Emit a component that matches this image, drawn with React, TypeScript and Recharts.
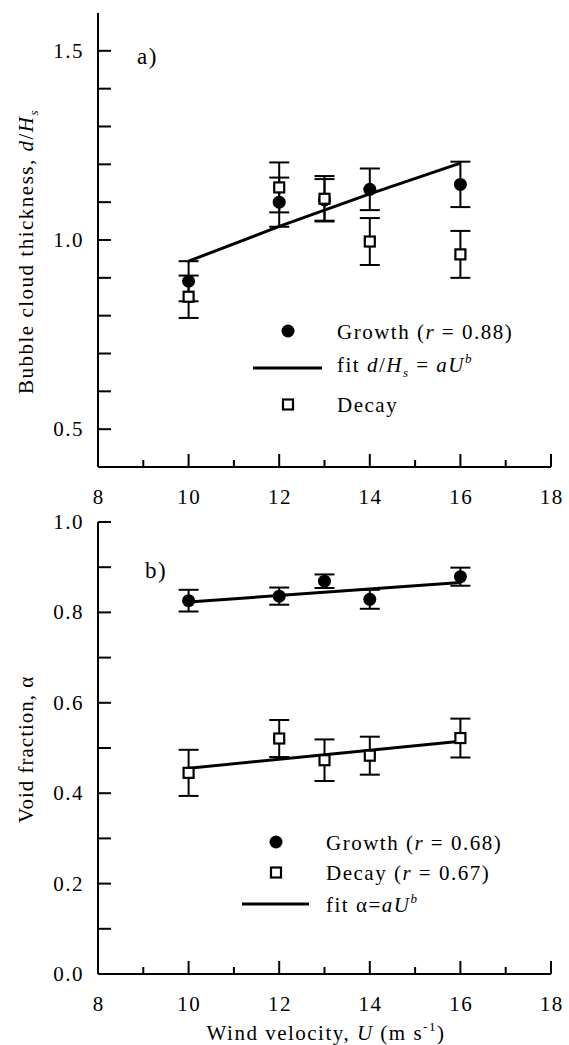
import React from 'react';
import { ComposedChart, Scatter, Line, XAxis, YAxis, ErrorBar } from 'recharts';

// wind velocity U (m/s) of the measurements
const WIND = [10, 12, 13, 14, 16];

// a) bubble cloud thickness d/Hs
const growthThick = [0.891, 1.1, 1.106, 1.134, 1.147];
const growthThickErr = [0.053, 0.065, 0.055, 0.055, 0.06];
const decayThick = [0.85, 1.139, 1.109, 0.996, 0.962];
const decayThickErr = [0.056, 0.066, 0.06, 0.062, 0.062];
const fitThickU = [10, 12, 14, 16];
const fitThick = [0.944, 1.036, 1.122, 1.203];

// b) void fraction alpha
const growthVoid = [0.826, 0.836, 0.869, 0.829, 0.879];
const growthVoidErr = [0.024, 0.019, 0.015, 0.021, 0.02];
const decayVoid = [0.445, 0.521, 0.473, 0.483, 0.522];
const decayVoidErr = [0.051, 0.041, 0.046, 0.042, 0.043];
const fitVoidU = [10, 16];
const fitGrowthVoid = [0.823, 0.866];
const fitDecayVoid = [0.455, 0.515];

const X_TICKS = [8, 9, 10, 11, 12, 13, 14, 15, 16, 17, 18];
const THICK_TICKS = [0.5, 0.6, 0.7, 0.8, 0.9, 1.0, 1.1, 1.2, 1.3, 1.4, 1.5];
const THICK_LABELS = [0.5, 1.0, 1.5];
const VOID_TICKS = [0, 0.1, 0.2, 0.3, 0.4, 0.5, 0.6, 0.7, 0.8, 0.9, 1.0];
const VOID_LABELS = [0, 0.2, 0.4, 0.6, 0.8, 1.0];

const FONT = '"Liberation Serif", "Times New Roman", serif';
const FS = 21;
const LS = 1.5;

const pts = (u: number[], v: number[], e?: number[]) =>
  u.map((x, i) => ({ u: x, v: v[i], e: e ? e[i] : 0 }));

const has = (list: number[], v: number) => list.some((l) => Math.abs(l - v) < 1e-6);

// inward tick marks, labels only on bottom / left
const xTick = (side: 'bottom' | 'top') => (p: any) => {
  const v = p.payload.value;
  const len = v % 2 === 0 ? 13 : 7;
  const dir = side === 'bottom' ? -1 : 1;
  return (
    <g>
      <line x1={p.x} y1={p.y} x2={p.x} y2={p.y + dir * len} stroke="#000" strokeWidth={2} />
      {side === 'bottom' && v % 2 === 0 && (
        <text x={p.x + LS / 2} y={p.y + 37} textAnchor="middle" fontFamily={FONT} fontSize={FS} letterSpacing={LS}>
          {v}
        </text>
      )}
    </g>
  );
};

const yTick = (side: 'left' | 'right', labels: number[]) => (p: any) => {
  const v = p.payload.value;
  const dir = side === 'left' ? 1 : -1;
  return (
    <g>
      <line x1={p.x} y1={p.y} x2={p.x + dir * 13} y2={p.y} stroke="#000" strokeWidth={2} />
      {side === 'left' && has(labels, v) && (
        <text x={p.x - 14} y={p.y + 7} textAnchor="end" fontFamily={FONT} fontSize={FS} letterSpacing={LS}>
          {v.toFixed(1)}
        </text>
      )}
    </g>
  );
};

const Dot = (p: any) => <circle cx={p.cx} cy={p.cy} r={6.5} fill="#000" />;
const Box = (p: any) => (
  <rect x={p.cx - 5} y={p.cy - 5} width={10} height={10} fill="#fff" stroke="#000" strokeWidth={2.2} />
);

const axisLine = { stroke: '#000', strokeWidth: 2 };

const axes = (domain: [number, number], yTicks: number[], yLabels: number[]) => [
  <XAxis key="xb" xAxisId="b" type="number" dataKey="u" domain={[8, 18]} ticks={X_TICKS} interval={0}
    height={40} tickSize={0} tickMargin={0} tickLine={false} axisLine={axisLine} tick={xTick('bottom')} allowDataOverflow />,
  <XAxis key="xt" xAxisId="t" orientation="top" type="number" dataKey="u" domain={[8, 18]} ticks={X_TICKS} interval={0}
    height={0} tickSize={0} tickMargin={0} tickLine={false} axisLine={axisLine} tick={xTick('top')} allowDataOverflow />,
  <YAxis key="yl" yAxisId="l" type="number" dataKey="v" domain={domain} ticks={yTicks} interval={0}
    width={98} tickSize={0} tickMargin={0} tickLine={false} axisLine={axisLine} tick={yTick('left', yLabels)} allowDataOverflow />,
  <YAxis key="yr" yAxisId="r" orientation="right" type="number" dataKey="v" domain={domain} ticks={yTicks} interval={0}
    width={0} tickSize={0} tickMargin={0} tickLine={false} axisLine={axisLine} tick={yTick('right', yLabels)} allowDataOverflow />,
];

const bar = <ErrorBar dataKey="e" direction="y" width={10} stroke="#000" strokeWidth={2} />;

function ThicknessChart() {
  return (
    <ComposedChart width={569} height={520} margin={{ top: 13, right: 18, bottom: 13, left: 0 }}>
      {axes([0.4, 1.6], THICK_TICKS, THICK_LABELS)}
      <Line xAxisId="b" yAxisId="l" data={pts(fitThickU, fitThick)} dataKey="v" stroke="#000" strokeWidth={3}
        dot={false} isAnimationActive={false} />
      <Scatter xAxisId="b" yAxisId="l" data={pts(WIND, growthThick, growthThickErr)} dataKey="v" shape={Dot}
        isAnimationActive={false}>
        {bar}
      </Scatter>
      <Scatter xAxisId="b" yAxisId="l" data={pts(WIND, decayThick, decayThickErr)} dataKey="v" shape={Box}
        isAnimationActive={false}>
        {bar}
      </Scatter>
    </ComposedChart>
  );
}

function VoidChart() {
  return (
    <ComposedChart width={569} height={545} margin={{ top: 22, right: 18, bottom: 31, left: 0 }}>
      {axes([0, 1], VOID_TICKS, VOID_LABELS)}
      <Line xAxisId="b" yAxisId="l" data={pts(fitVoidU, fitGrowthVoid)} dataKey="v" stroke="#000" strokeWidth={3}
        dot={false} isAnimationActive={false} />
      <Line xAxisId="b" yAxisId="l" data={pts(fitVoidU, fitDecayVoid)} dataKey="v" stroke="#000" strokeWidth={3}
        dot={false} isAnimationActive={false} />
      <Scatter xAxisId="b" yAxisId="l" data={pts(WIND, growthVoid, growthVoidErr)} dataKey="v" shape={Dot}
        isAnimationActive={false}>
        {bar}
      </Scatter>
      <Scatter xAxisId="b" yAxisId="l" data={pts(WIND, decayVoid, decayVoidErr)} dataKey="v" shape={Box}
        isAnimationActive={false}>
        {bar}
      </Scatter>
    </ComposedChart>
  );
}

const T = (props: any) => (
  <text fontFamily={FONT} fontSize={FS} letterSpacing={LS} {...props} />
);

function Annotations() {
  return (
    <svg width={569} height={1045} style={{ position: 'absolute', left: 0, top: 0, pointerEvents: 'none' }}>
      {/* panel labels */}
      <T x={137} y={64} fontSize={23}>a)</T>
      <T x={145} y={578} fontSize={23}>b)</T>

      {/* axis titles */}
      <T x={0} y={0} transform="translate(33,394) rotate(-90)">
        Bubble cloud thickness, <tspan fontStyle="italic">d</tspan>/<tspan fontStyle="italic">H</tspan>
        <tspan fontStyle="italic" fontSize={13} dy={5}>s</tspan>
      </T>
      <T x={0} y={0} letterSpacing={1} transform="translate(33,823) rotate(-90)">
        Void fraction, α
      </T>
      <T x={326} y={1040} textAnchor="middle">
        Wind velocity, <tspan fontStyle="italic">U</tspan> (m s<tspan fontSize={13} dy={-9}>-1</tspan>
        <tspan dy={9}>)</tspan>
      </T>

      {/* legend a) */}
      <circle cx={288} cy={331} r={6.5} fill="#000" />
      <T x={337} y={339}>
        Growth (<tspan fontStyle="italic">r</tspan> = 0.88)
      </T>
      <line x1={253} y1={368} x2={322} y2={368} stroke="#000" strokeWidth={3} />
      <T x={337} y={372}>
        fit <tspan fontStyle="italic">d</tspan>/<tspan fontStyle="italic">H</tspan>
        <tspan fontStyle="italic" fontSize={13} dy={5}>s</tspan>
        <tspan dy={-5}> = </tspan>
        <tspan fontStyle="italic">aU</tspan>
        <tspan fontStyle="italic" fontSize={13} dy={-9}>b</tspan>
      </T>
      <rect x={283} y={399.5} width={10} height={10} fill="#fff" stroke="#000" strokeWidth={2.2} />
      <T x={337} y={412}>Decay</T>

      {/* legend b) */}
      <circle cx={276} cy={842} r={6.5} fill="#000" />
      <T x={326} y={850}>
        Growth (<tspan fontStyle="italic">r</tspan> = 0.68)
      </T>
      <rect x={271} y={867.5} width={10} height={10} fill="#fff" stroke="#000" strokeWidth={2.2} />
      <T x={326} y={880}>
        Decay (<tspan fontStyle="italic">r</tspan> = 0.67)
      </T>
      <line x1={242} y1={904} x2={309} y2={904} stroke="#000" strokeWidth={3} />
      <T x={326} y={912}>
        fit α=<tspan fontStyle="italic">aU</tspan>
        <tspan fontStyle="italic" fontSize={13} dy={-9}>b</tspan>
      </T>
    </svg>
  );
}

export default function App() {
  return (
    <div style={{ position: 'absolute', left: 0, top: 0, width: 569, height: 1045, background: '#fff' }}>
      <div style={{ position: 'absolute', left: 0, top: 0 }}>
        <ThicknessChart />
      </div>
      <div style={{ position: 'absolute', left: 0, top: 500 }}>
        <VoidChart />
      </div>
      <Annotations />
    </div>
  );
}
